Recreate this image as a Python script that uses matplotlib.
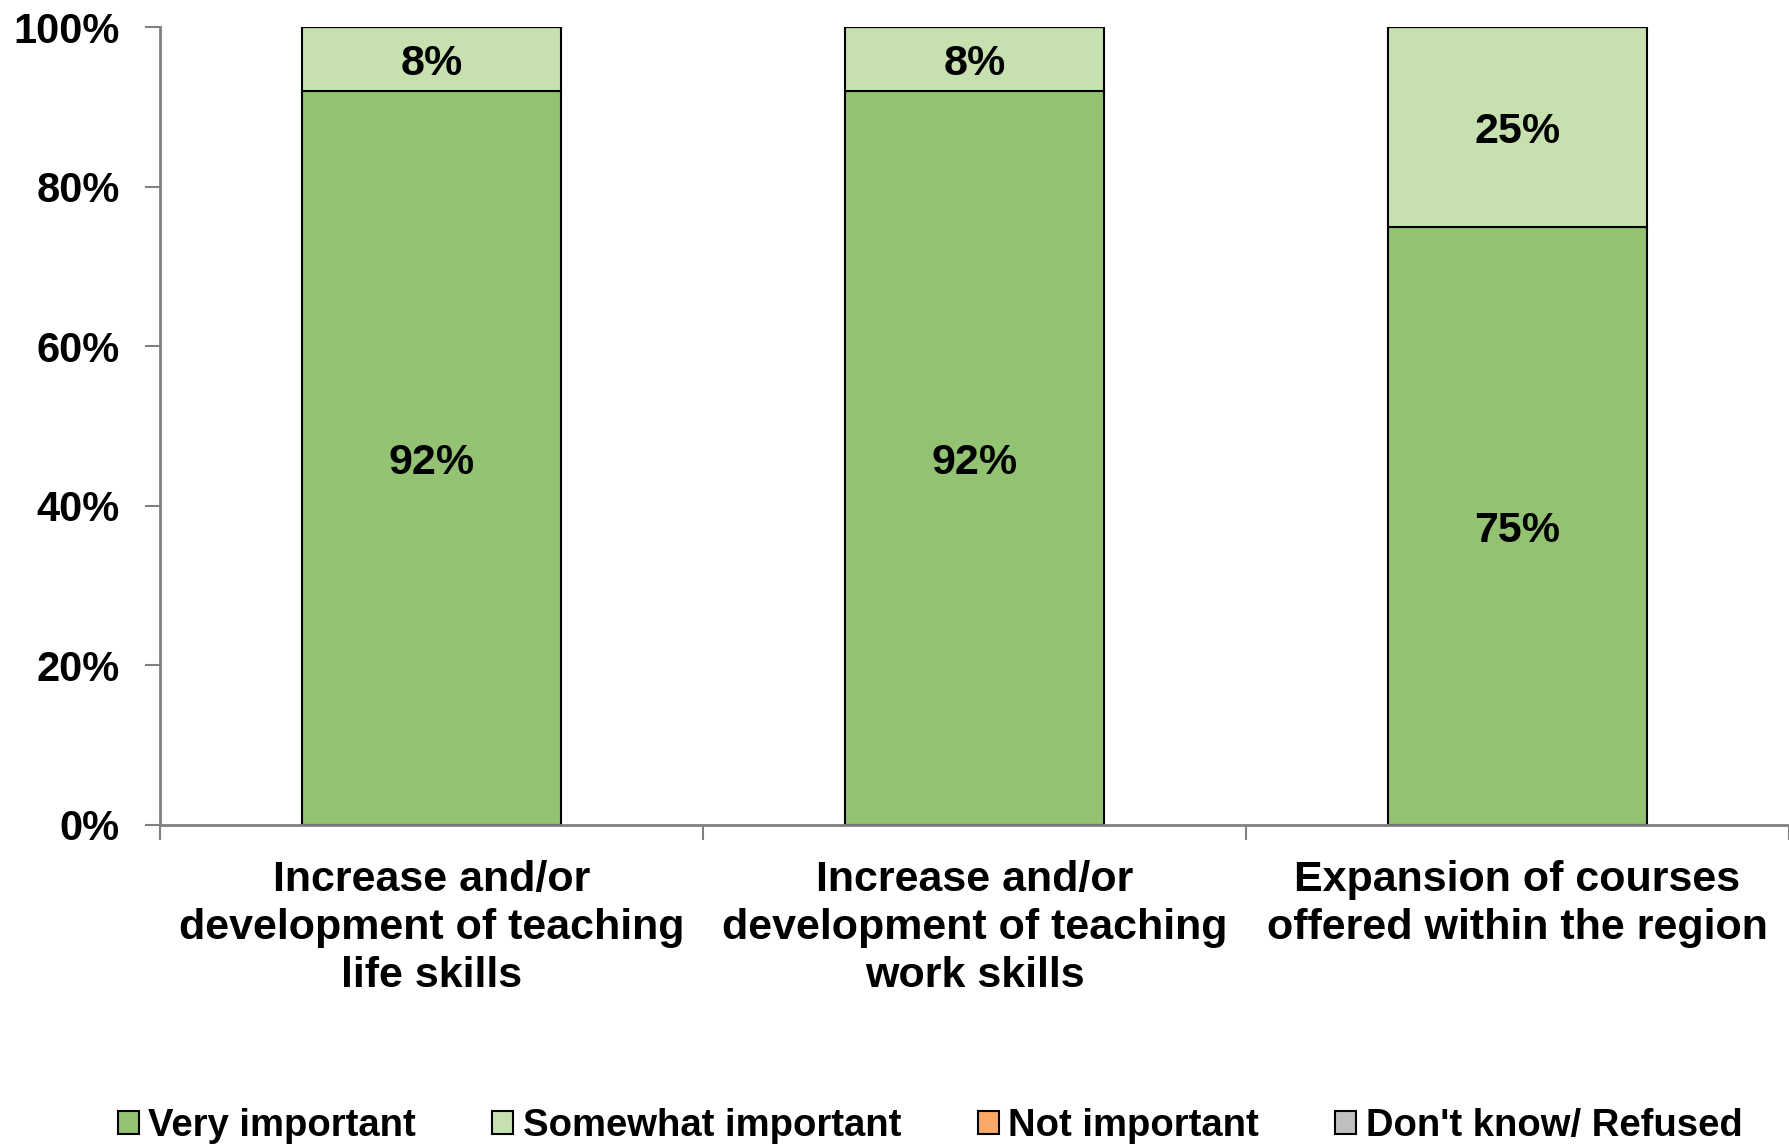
import matplotlib
matplotlib.use("Agg")
import matplotlib.pyplot as plt
import matplotlib.transforms as mtransforms
import numpy as np

categories = ["Increase and/or\ndevelopment of teaching\nlife skills",
              "Increase and/or\ndevelopment of teaching\nwork skills",
              "Expansion of courses\noffered within the region"]
series_names = ["Very important", "Somewhat important", "Not important", "Don't know/ Refused"]
very_important = [92, 92, 75]
somewhat_important = [8, 8, 25]
not_important = [0, 0, 0]
dont_know = [0, 0, 0]
colors = ["#93C272", "#C6E0AF", "#F9A867", "#BFBFBF"]
y_ticks = [0, 20, 40, 60, 80, 100]

plt.rcParams['font.family'] = ['Liberation Sans', 'DejaVu Sans']
plt.rcParams['font.weight'] = 'bold'

fig = plt.figure(figsize=(17.89, 11.44), dpi=100)
ax = fig.add_axes([0.0894, 0.279, 0.9106, 0.697])

x = np.arange(len(categories))
width = 0.477
series = [very_important, somewhat_important, not_important, dont_know]
bottom = np.zeros(len(categories))
label_tr = mtransforms.offset_copy(ax.transData, fig=fig, x=0, y=-5, units="dots")
for name, vals, col in zip(series_names, series, colors):
    vals = np.array(vals, dtype=float)
    ax.bar(x, vals, width, bottom=bottom, color=col, edgecolor="black",
           linewidth=1.5, label=name)
    for xi, b, v in zip(x, bottom, vals):
        if v > 0:
            ax.text(xi, b + v / 2, f"{v:.0f}%", ha="center", va="center",
                    fontsize=31, fontweight="bold", color="black", transform=label_tr)
    bottom += vals

ax.set_xlim(-0.5, 2.5)
ax.set_ylim(0, 100)
ax.set_yticks(y_ticks)
ax.set_yticklabels([f"{t}%" for t in y_ticks], fontsize=30, fontweight="bold")
ax.set_xticks(x)
ax.set_xticklabels(categories, fontsize=31, fontweight="bold", linespacing=1.27)
ax.tick_params(axis="x", length=0, pad=25)
ax.set_xticks([-0.5, 0.5, 1.5, 2.5], minor=True)
ax.tick_params(axis="x", which="minor", length=11, width=1.5, color="#808080", direction="out")
ax.tick_params(axis="y", length=11, width=1.5, color="#808080", direction="out", pad=18)

for s in ["top", "right"]:
    ax.spines[s].set_visible(False)
for s in ["left", "bottom"]:
    ax.spines[s].set_color("#808080")
    ax.spines[s].set_linewidth(2)

handles, labels = ax.get_legend_handles_labels()
leg = fig.legend(handles, labels, loc="lower center", bbox_to_anchor=(0.52, -0.03), ncol=4,
                 frameon=False, fontsize=27.5, handlelength=0.55, handleheight=0.55,
                 handletextpad=0.25, columnspacing=2.0)
for t in leg.get_texts():
    t.set_fontweight("bold")

fig.savefig("out.png", dpi=100)
